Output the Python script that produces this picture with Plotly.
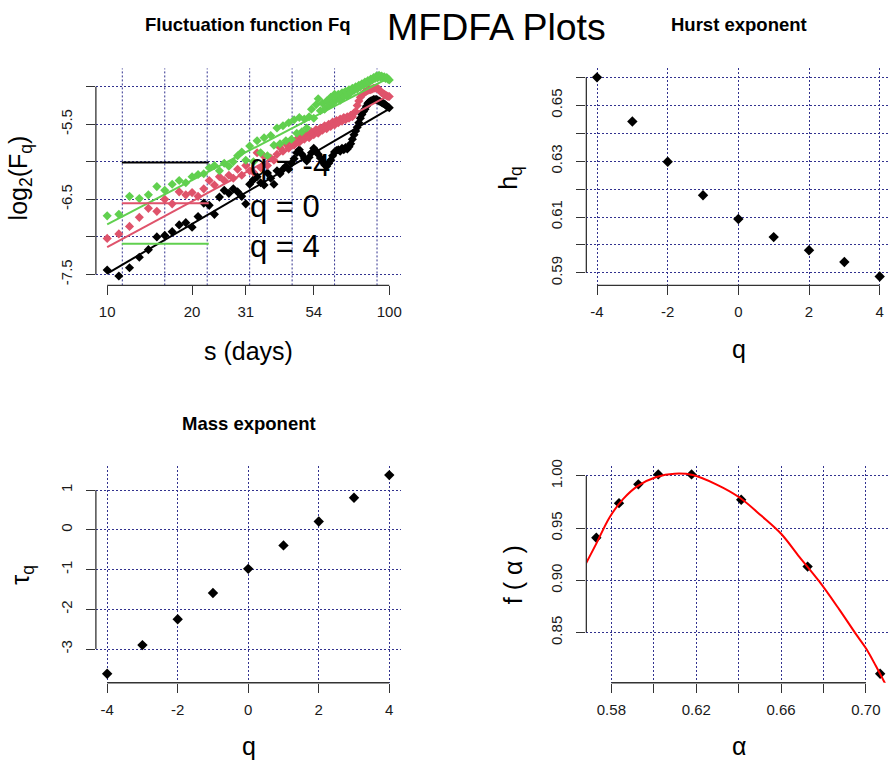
import numpy as np
import plotly.graph_objects as go

W, H = 889, 762

# ---------------------------------------------------------------- data
# scale s (days) and log2 of the fluctuation function for q = -4, 0, 4
scales = list(range(10, 101))
logFq_q_neg4 = [
    -7.44, -7.52, -7.41, -7.27, -7.17, -7.00, -6.98, -6.93, -6.84, -6.81,
    -6.87, -6.73, -6.55, -6.58, -6.70, -6.47, -6.38, -6.42, -6.36, -6.40,
    -6.46, -6.56, -6.30, -6.24, -6.20, -6.28, -6.31, -6.15, -6.22, -6.30,
    -6.12, -6.16, -6.10, -6.06, -6.10, -6.02, -5.96, -5.88, -5.84, -5.90,
    -5.95, -5.99, -5.94, -5.88, -5.82, -5.86, -5.90, -5.95, -6.00, -6.04,
    -6.06, -6.02, -5.98, -5.92, -5.87, -5.85, -5.84, -5.86, -5.82, -5.84,
    -5.81, -5.83, -5.80, -5.76, -5.70, -5.64, -5.59, -5.54, -5.48, -5.42,
    -5.37, -5.33, -5.30, -5.26, -5.22, -5.20, -5.19, -5.18, -5.17, -5.17,
    -5.17, -5.18, -5.19, -5.20, -5.21, -5.22, -5.23, -5.24, -5.26, -5.27,
    -5.28,
]
logFq_q_0 = [
    -7.02, -6.96, -6.86, -6.74, -6.62, -6.66, -6.50, -6.56, -6.40, -6.44,
    -6.41, -6.46, -6.36, -6.25, -6.31, -6.20, -6.25, -6.18, -6.22, -6.10,
    -6.18, -6.05, -6.12, -6.14, -5.88, -6.08, -5.93, -6.05, -5.95, -5.98,
    -5.90, -5.81, -5.86, -5.76, -5.82, -5.74, -5.78, -5.70, -5.74, -5.66,
    -5.70, -5.63, -5.68, -5.60, -5.64, -5.57, -5.62, -5.55, -5.58, -5.52,
    -5.56, -5.50, -5.53, -5.47, -5.51, -5.45, -5.48, -5.43, -5.46, -5.41,
    -5.44, -5.40, -5.42, -5.38, -5.40, -5.35, -5.33, -5.25, -5.19, -5.14,
    -5.11, -5.09, -5.07, -5.06, -5.05, -5.04, -5.04, -5.03, -5.02, -5.02,
    -5.02, -5.02, -5.04, -5.06, -5.08, -5.09, -5.10, -5.11, -5.12, -5.13,
    -5.13,
]
logFq_q_4 = [
    -6.72, -6.70, -6.46, -6.49, -6.44, -6.33, -6.38, -6.30, -6.25, -6.28,
    -6.20, -6.17, -6.16, -6.08, -6.05, -6.12, -6.02, -6.06, -6.00, -5.92,
    -5.87, -5.98, -5.79, -6.00, -5.72, -5.88, -5.68, -5.92, -5.65, -5.78,
    -5.55, -5.76, -5.52, -5.72, -5.48, -5.70, -5.44, -5.62, -5.41, -5.60,
    -5.43, -5.55, -5.40, -5.30, -5.42, -5.24, -5.16, -5.32, -5.22, -5.30,
    -5.19, -5.25, -5.14, -5.22, -5.10, -5.17, -5.10, -5.18, -5.08, -5.13,
    -5.06, -5.12, -5.04, -5.08, -5.02, -5.05, -5.00, -5.03, -4.98, -5.00,
    -4.96, -4.98, -4.94, -4.96, -4.92, -4.94, -4.90, -4.91, -4.88, -4.89,
    -4.86, -4.88, -4.85, -4.87, -4.86, -4.88, -4.87, -4.89, -4.88, -4.90,
    -4.91,
]
fit_q = [-4, 0, 4]
fit_intercepts = [-9.68, -9.16, -8.79]      # log2(Fq) at log2(s) = 0
legend_labels = ["q = -4", "q = 0", "q = 4"]
s_tick_labels = [10, 20, 31, 54, 100]

# generalized Hurst exponent and mass exponent
q_values = [-4, -3, -2, -1, 0, 1, 2, 3, 4]
hurst = [0.6600, 0.6442, 0.6298, 0.6178, 0.6093, 0.6028, 0.5981, 0.5939, 0.5887]
tau = [-3.62, -2.90, -2.25, -1.59, -0.98, -0.39, 0.21, 0.81, 1.38]

# singularity spectrum
alpha = [0.5729, 0.5836, 0.5927, 0.6021, 0.6178, 0.6412, 0.6725, 0.7067]
f_alpha = [0.9409, 0.9740, 0.9920, 1.0015, 1.0015, 0.9773, 0.9132, 0.8106]
alpha_smooth = [0.5679, 0.5729, 0.5792, 0.5855, 0.5925, 0.6012, 0.6098, 0.6184,
                0.6294, 0.6404, 0.6506, 0.6600, 0.6686, 0.6780, 0.6874, 0.6953,
                0.7000, 0.7047, 0.7091]
f_smooth = [0.9157, 0.9352, 0.9605, 0.9778, 0.9905, 0.9990, 1.0022, 1.0009,
            0.9920, 0.9794, 0.9621, 0.9447, 0.9226, 0.8990, 0.8722, 0.8485,
            0.8350, 0.8180, 0.8010]

# ---------------------------------------------------------------- style
FONT = "Liberation Sans, Arial, Helvetica, sans-serif"
GRID = "#32328f"
GRID_DASH = "2px,2px"
SERIES_COLORS = ["#000000", "#DF536B", "#61D04F"]
AXIS_COLOR = "#333333"
TICK_LEN = 9


def fx(px):
    return px / W


def fy(py):
    return 1 - py / H


fig = go.Figure()

# ---- panel 1: fluctuation function
log2_s = np.log2(scales)
for vals, col in zip([logFq_q_neg4, logFq_q_0, logFq_q_4], SERIES_COLORS):
    fig.add_trace(go.Scatter(
        x=log2_s, y=vals, mode="markers", xaxis="x", yaxis="y",
        marker=dict(symbol="diamond", size=7, color=col, line=dict(width=0)),
        showlegend=False, hoverinfo="skip"))
for q, b, col in zip(fit_q, fit_intercepts, SERIES_COLORS):
    h = hurst[q_values.index(q)]
    xs = np.array([log2_s[0], log2_s[-1]])
    fig.add_trace(go.Scatter(
        x=xs, y=b + h * xs, mode="lines", xaxis="x", yaxis="y",
        line=dict(color=col, width=2), showlegend=False, hoverinfo="skip"))

# ---- panel 2: Hurst exponent
fig.add_trace(go.Scatter(
    x=q_values, y=hurst, mode="markers", xaxis="x2", yaxis="y2",
    marker=dict(symbol="diamond", size=8, color="black"), showlegend=False))

# ---- panel 3: mass exponent
fig.add_trace(go.Scatter(
    x=q_values, y=tau, mode="markers", xaxis="x3", yaxis="y3",
    marker=dict(symbol="diamond", size=8, color="black"), showlegend=False))

# ---- panel 4: singularity spectrum
fig.add_trace(go.Scatter(
    x=alpha, y=f_alpha, mode="markers", xaxis="x4", yaxis="y4",
    marker=dict(symbol="diamond", size=8, color="black"), showlegend=False))
fig.add_trace(go.Scatter(
    x=alpha_smooth, y=f_smooth, mode="lines", xaxis="x4", yaxis="y4",
    line=dict(color="#FF0000", width=2, shape="spline"), showlegend=False))


def axis(domain, rng, ticks, labelled, fmt, anchor, grid=True, is_y=False):
    """R-like axis: every tick drawn, only some labelled, dotted grid."""
    d = dict(
        domain=domain, range=rng, anchor=anchor,
        tickmode="array", tickvals=list(ticks),
        ticktext=[fmt(v) if any(abs(v - s) < 1e-9 for s in labelled) else "" for v in ticks],
        showgrid=grid, gridcolor=GRID, griddash=GRID_DASH, gridwidth=1,
        zeroline=False, showline=False,
        ticks="outside", ticklen=TICK_LEN, tickwidth=1.2, tickcolor=AXIS_COLOR,
        tickfont=dict(family=FONT, size=15, color="#1a1a1a"),
        ticklabelstandoff=8 if is_y else 4, fixedrange=True,
    )
    if is_y:
        d["tickangle"] = -90
    return d


# plot regions (pixels)
LEFT_X = (96, 401)
RIGHT_X = (587, 889)
TOP_Y = (62, 281)
BOT_Y = (463, 682)

dx_left = [fx(LEFT_X[0]), fx(LEFT_X[1])]
dx_right = [fx(RIGHT_X[0]), fx(RIGHT_X[1])]
dy_top = [fy(TOP_Y[1]), fy(TOP_Y[0])]
dy_bot = [fy(BOT_Y[1]), fy(BOT_Y[0])]

x1_ticks = list(np.log2(s_tick_labels))
x1_grid = list(np.arange(3.5, 6.51, 0.5))
y1_ticks = [-5.0, -5.5, -6.0, -6.5, -7.0, -7.5]
y1_labelled = [-5.5, -6.5, -7.5]
q_ticks = [-4, -2, 0, 2, 4]
y2_ticks = [0.59, 0.60, 0.61, 0.62, 0.63, 0.64, 0.65, 0.66]
y2_labelled = [0.59, 0.61, 0.63, 0.65]
y3_ticks = [1, 0, -1, -2, -3]
x4_ticks = [0.58, 0.60, 0.62, 0.64, 0.66, 0.68, 0.70]
x4_labelled = [0.58, 0.62, 0.66, 0.70]
y4_ticks = [1.00, 0.95, 0.90, 0.85]

ranges = {
    "x": [3.189, 6.777], "y": [-7.646, -4.757],
    "x2": [-4.302, 4.235], "y2": [0.5855, 0.6632],
    "x3": [-4.32, 4.32], "y3": [-3.847, 1.615],
    "x4": [0.5682, 0.7104], "y4": [0.802, 1.0098],
}
domains = {
    "x": dx_left, "y": dy_top, "x2": dx_right, "y2": dy_top,
    "x3": dx_left, "y3": dy_bot, "x4": dx_right, "y4": dy_bot,
}

s_lab = dict(zip(x1_ticks, [str(s) for s in s_tick_labels]))
fig.update_layout(
    xaxis=axis(domains["x"], ranges["x"], x1_ticks, x1_ticks, lambda v: s_lab[v], "y", grid=False),
    yaxis=axis(domains["y"], ranges["y"], y1_ticks, y1_labelled, lambda v: f"{v:.1f}", "x", is_y=True),
    xaxis2=axis(domains["x2"], ranges["x2"], q_ticks, q_ticks, str, "y2"),
    yaxis2=axis(domains["y2"], ranges["y2"], y2_ticks, y2_labelled, lambda v: f"{v:.2f}", "x2", is_y=True),
    xaxis3=axis(domains["x3"], ranges["x3"], q_ticks, q_ticks, str, "y3"),
    yaxis3=axis(domains["y3"], ranges["y3"], y3_ticks, y3_ticks, str, "x3", is_y=True),
    xaxis4=axis(domains["x4"], ranges["x4"], x4_ticks, x4_labelled, lambda v: f"{v:.2f}", "y4"),
    yaxis4=axis(domains["y4"], ranges["y4"], y4_ticks, y4_ticks, lambda v: f"{v:.2f}", "x4", is_y=True),
)


def to_paper(ax, v):
    r0, r1 = ranges[ax]
    d0, d1 = domains[ax]
    return d0 + (v - r0) / (r1 - r0) * (d1 - d0)


shapes = []

# vertical grid of panel 1 sits on a regular log2 grid, not on the labelled ticks
for g in x1_grid:
    shapes.append(dict(type="line", xref="paper", yref="paper", layer="below",
                       x0=to_paper("x", g), x1=to_paper("x", g),
                       y0=domains["y"][0], y1=domains["y"][1],
                       line=dict(color=GRID, width=1, dash=GRID_DASH)))

# R-style axis lines running from the first to the last tick
axis_ticks = [
    ("x", "y", x1_ticks, y1_ticks),
    ("x2", "y2", q_ticks, y2_ticks),
    ("x3", "y3", q_ticks, y3_ticks),
    ("x4", "y4", x4_ticks, y4_ticks),
]
for xa, ya, xt, yt in axis_ticks:
    ybase = domains[ya][0]
    xbase = domains[xa][0]
    shapes.append(dict(type="line", xref="paper", yref="paper",
                       x0=to_paper(xa, min(xt)), x1=to_paper(xa, max(xt)),
                       y0=ybase, y1=ybase, line=dict(color=AXIS_COLOR, width=1.3)))
    shapes.append(dict(type="line", xref="paper", yref="paper",
                       x0=xbase, x1=xbase,
                       y0=to_paper(ya, min(yt)), y1=to_paper(ya, max(yt)),
                       line=dict(color=AXIS_COLOR, width=1.3)))

# legend of panel 1
legend_rows_py = [157, 198, 239]
for lab, col, py in zip(legend_labels, SERIES_COLORS, legend_rows_py):
    shapes.append(dict(type="line", xref="paper", yref="paper", x0=fx(122), x1=fx(209),
                       y0=fy(py), y1=fy(py), line=dict(color=col, width=2)))

annotations = []


def text(s, px, py, size, bold=False, angle=0, xanchor="center"):
    annotations.append(dict(
        text=f"<b>{s}</b>" if bold else s, x=fx(px), y=fy(py), xref="paper", yref="paper",
        xanchor=xanchor, yanchor="middle", showarrow=False, textangle=angle,
        font=dict(family=FONT, size=size, color="black")))


for lab, py in zip(legend_labels, legend_rows_py):
    text(lab, 248, py + 3, 31, xanchor="left")

text("MFDFA Plots", 497, 20, 37.5)
text("Fluctuation function Fq", 248.5, 18, 18.5, bold=True)
text("Hurst exponent", 739.5, 18, 18.5, bold=True)
text("Mass exponent", 249, 420, 18.5, bold=True)

text("s (days)", 248.5, 347, 25)
text("q", 739.5, 345, 25)
text("q", 249, 746, 25)
text("α", 739.5, 746, 25)

text("log<sub>2</sub>(F<sub>q</sub>)", 20, 172, 25, angle=-90)
text("h<sub>q</sub>", 511, 172, 25, angle=-90)
text("τ<sub>q</sub>", 22, 573, 25, angle=-90)
text("f ( α )", 513, 573, 25, angle=-90)

fig.update_layout(
    width=W, height=H, margin=dict(l=0, r=0, t=0, b=0),
    paper_bgcolor="white", plot_bgcolor="white",
    font=dict(family=FONT, color="black"),
    shapes=shapes, annotations=annotations, showlegend=False,
)

fig.write_html("out.html")
